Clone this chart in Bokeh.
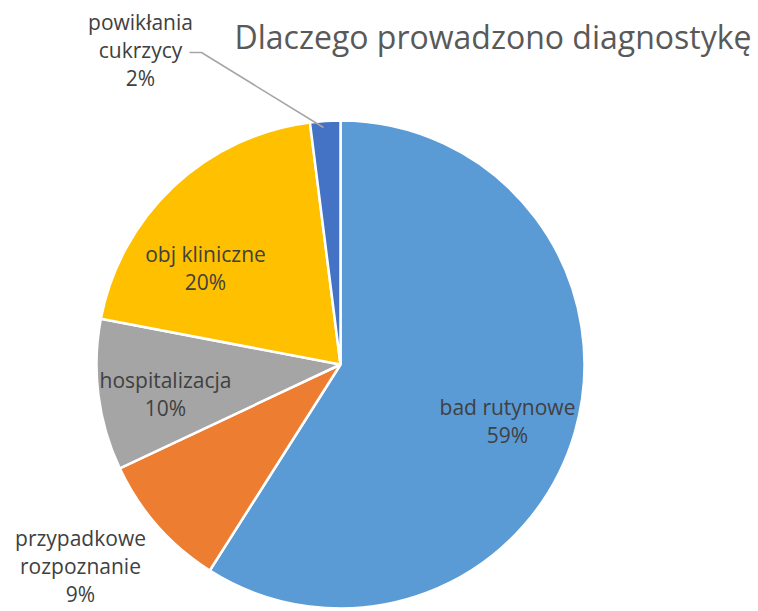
import numpy as np
from bokeh.plotting import figure
from bokeh.models import ColumnDataSource, Range1d
from bokeh.core.properties import value
from bokeh.embed import file_html
from bokeh.resources import INLINE

# ---- data ----
categories = ["bad rutynowe", "przypadkowe\nrozpoznanie", "hospitalizacja", "obj kliniczne", "powikłania\ncukrzycy"]
percent = [59, 9, 10, 20, 2]
colors = ["#5B9BD5", "#ED7D31", "#A5A5A5", "#FFC000", "#4472C4"]
title_text = "Dlaczego prowadzono diagnostykę"

W, H = 758, 611
def X(px):
    return px
def Y(py):
    return H - py

cx, cy, R = X(340), Y(364), 244

vals = np.array(percent, dtype=float)
frac = vals / vals.sum()
cum = np.concatenate([[0], np.cumsum(frac)])
start = np.pi / 2 - cum[:-1] * 2 * np.pi
end = np.pi / 2 - cum[1:] * 2 * np.pi

src = ColumnDataSource(dict(cat=categories, val=percent, color=colors, start=start, end=end))

p = figure(width=W, height=H, output_backend="svg", toolbar_location=None,
           x_range=Range1d(0, W), y_range=Range1d(0, H), min_border=0)
p.axis.visible = False
p.grid.visible = False
p.outline_line_color = None

p.wedge(x=cx, y=cy, radius=R, start_angle="start", end_angle="end", direction="clock",
        fill_color="color", line_color="white", line_width=2.5, source=src)

# label layout (screen positions of label block centers)
label_pos = [(507, 420), (80, 565), (165, 393), (205, 267), (140, 49)]
labels = [f"{c}\n{v}%" for c, v in zip(categories, percent)]
lsrc = ColumnDataSource(dict(x=[X(a) for a, b in label_pos], y=[Y(b) for a, b in label_pos], t=labels))
p.text(x="x", y="y", text="t", source=lsrc, text_align="center", text_baseline="middle",
       text_font=value("Open Sans"), text_font_size="21px", text_color="#404040",
       text_line_height=1.0)

# leader line for small slice
p.line(x=[X(189), X(201), X(323)], y=[Y(52), Y(52), Y(127)], line_color="#A6A6A6", line_width=1.5)

p.text(x=[X(234)], y=[Y(36)], text=[title_text], text_align="left", text_baseline="middle",
       text_font=value("Open Sans"), text_font_size="32px", text_color="#595959")

open("out.html", "w").write(file_html(p, INLINE))
